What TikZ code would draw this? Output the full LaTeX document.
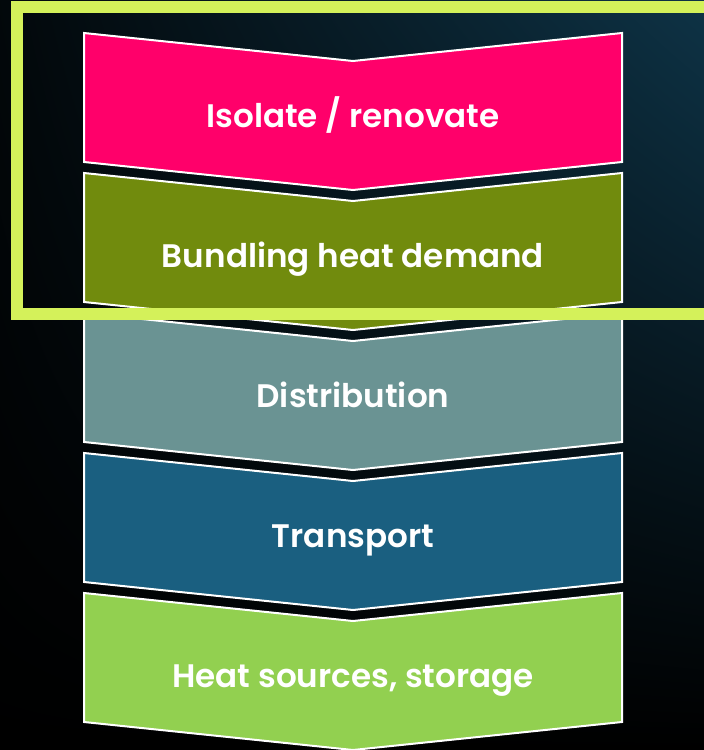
\documentclass[tikz,border=0pt]{standalone}
\usepackage{fontspec}
\setmainfont{Poppins}[BoldFont={Poppins SemiBold}]
\usetikzlibrary{shadings}

\definecolor{backblue}{HTML}{0E3346}
\definecolor{isopink}{HTML}{FF006A}
\definecolor{bundleolive}{HTML}{718B0D}
\definecolor{distgrey}{HTML}{6A9393}
\definecolor{transblue}{HTML}{1A5F80}
\definecolor{sourcegreen}{HTML}{92D050}
\definecolor{framelime}{HTML}{D4F15A}

\tikzset{
    chevron/.style={draw=white, line width=2pt, line join=miter},
    stagetext/.style={text=white, font=\bfseries\fontsize{32.6}{36}\selectfont, anchor=mid},
}

\begin{document}
\begin{tikzpicture}[x=1pt, y=-1pt]
        \useasboundingbox (0,0) rectangle (704,750);
        \shade [upper right=backblue, upper left=backblue!15!black,
                lower right=black, lower left=black] (0,0) rectangle (704,750);
        % chevron sizes
        \pgfmathsetmacro{\boxheight}{129}
        \pgfmathsetmacro{\notch}{28}
        \pgfmathsetmacro{\pitch}{140}
        \foreach \col/\txt [count=\i from 0] in {isopink/{Isolate / renovate}, bundleolive/{Bundling heat demand},
                distgrey/Distribution, transblue/Transport, sourcegreen/{Heat sources, storage}}{
                \pgfmathsetmacro{\top}{33+\i*\pitch}
                \fill [\col, chevron] (84,\top) -- (353,{\top+\notch}) -- (622,\top)
                        -- (622,{\top+\boxheight}) -- (353,{\top+\boxheight+\notch}) -- (84,{\top+\boxheight}) -- cycle;
                \node [stagetext] (stage\i) at (353,{\top+92}) {\txt};
            }
        % frame round the first two stages
        \draw [framelime, line width=11.5pt] (17,7) rectangle (710,314);
    \end{tikzpicture}
\end{document}
